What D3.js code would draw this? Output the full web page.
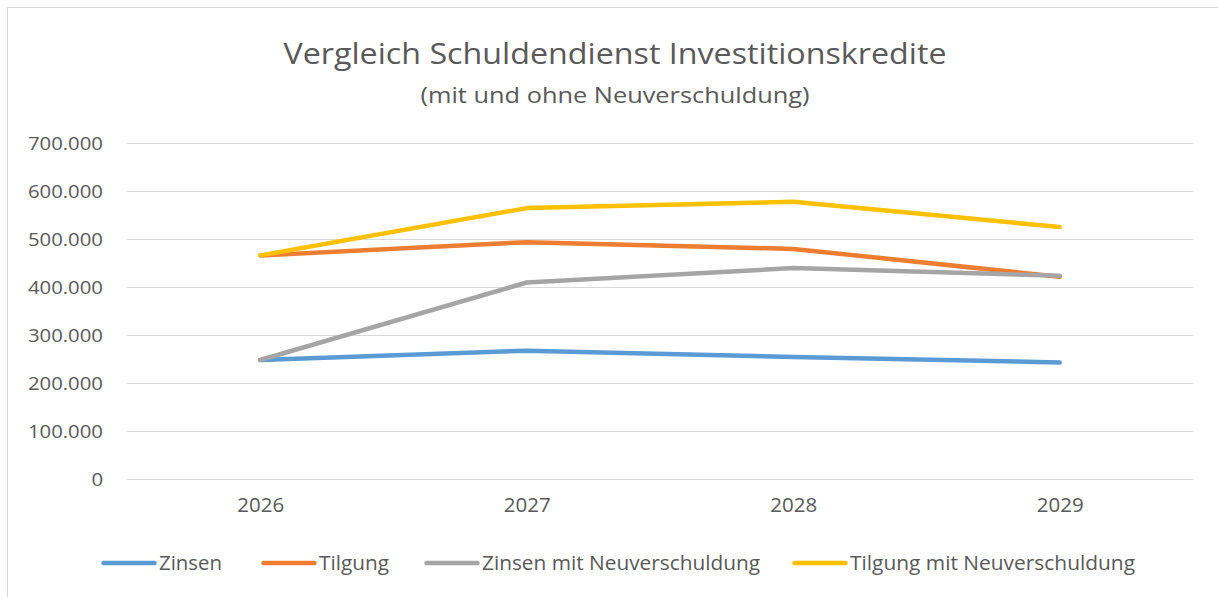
<!DOCTYPE html>
<html>
<head>
<meta charset="utf-8">
<script src="https://cdn.jsdelivr.net/npm/d3@7"></script>
<style>
  body { margin: 0; background: #fff; }
  svg text { font-family: "Open Sans", "Noto Sans", sans-serif; fill: #595959; }
</style>
</head>
<body>
<div id="chart"></div>
<script>
// values (EUR)
var years = ["2026", "2027", "2028", "2029"];
var zinsen = [248500, 268000, 255000, 243500];
var tilgung = [466500, 494000, 480000, 422000];
var zinsenNeu = [248500, 410000, 440000, 424000];
var tilgungNeu = [466500, 565000, 578000, 525500];
var seriesNames = ["Zinsen", "Tilgung", "Zinsen mit Neuverschuldung", "Tilgung mit Neuverschuldung"];
var seriesColors = ["#5B9BD5", "#ED7D31", "#A5A5A5", "#FFC000"];
var yTicks = [0, 100000, 200000, 300000, 400000, 500000, 600000, 700000];

var width = 1218, height = 597;
var svg = d3.select("#chart").append("svg")
    .attr("width", width)
    .attr("height", height);

// squeeze/stretch text to the width measured on the reference
function fitWidth(sel, w) {
    sel.attr("textLength", w).attr("lengthAdjust", "spacingAndGlyphs");
}
function stretch(sel, factor) {
    sel.each(function () {
        var len = this.getComputedTextLength();
        d3.select(this).attr("textLength", len * factor).attr("lengthAdjust", "spacingAndGlyphs");
    });
}

// chart frame
svg.append("rect")
    .attr("x", 7.5).attr("y", 7.5)
    .attr("width", width).attr("height", height)
    .attr("fill", "#fff")
    .attr("stroke", "#d9d9d9");

// titles
svg.append("text")
    .attr("x", 615).attr("y", 63.5)
    .attr("text-anchor", "middle")
    .style("font-size", "29px")
    .text("Vergleich Schuldendienst Investitionskredite")
    .call(fitWidth, 663);
svg.append("text")
    .attr("x", 615).attr("y", 103)
    .attr("text-anchor", "middle")
    .style("font-size", "21px")
    .text("(mit und ohne Neuverschuldung)")
    .call(fitWidth, 389);

var x = d3.scalePoint().domain(years).range([127, 1193]).padding(0.5);
var y = d3.scaleLinear().domain([0, 700000]).range([479.3, 143.3]);

var fmt = function (d) { return d3.format(",")(d).replace(/,/g, "."); };

// gridlines
svg.append("g").selectAll("line").data(yTicks).enter().append("line")
    .attr("x1", 127).attr("x2", 1193)
    .attr("y1", function (d) { return Math.round(y(d)) + 0.5; })
    .attr("y2", function (d) { return Math.round(y(d)) + 0.5; })
    .attr("stroke", "#d9d9d9")
    .attr("stroke-width", 1);

// y axis labels
var yAxis = d3.axisLeft(y).tickValues(yTicks).tickFormat(fmt).tickSize(0).tickPadding(0);
var yg = svg.append("g").attr("transform", "translate(103,0)").call(yAxis);
yg.select(".domain").remove();
yg.selectAll("text").style("font-size", "18px").attr("fill", "#595959")
    .call(stretch, 1.13);

// x axis labels
var xAxis = d3.axisBottom(x).tickSize(0).tickPadding(0);
var xg = svg.append("g").attr("transform", "translate(0,497)").call(xAxis);
xg.select(".domain").remove();
xg.selectAll("text").style("font-size", "20.5px").attr("fill", "#595959");

// lines
var seriesData = [zinsen, tilgung, zinsenNeu, tilgungNeu];
var line = d3.line()
    .x(function (d, i) { return x(years[i]); })
    .y(function (d) { return y(d); });

svg.append("g").selectAll("path").data(seriesData).enter().append("path")
    .attr("d", line)
    .attr("fill", "none")
    .attr("stroke", function (d, i) { return seriesColors[i]; })
    .attr("stroke-width", 4.5)
    .attr("stroke-linecap", "round")
    .attr("stroke-linejoin", "round");

// legend
var legendX = [101, 261, 424, 792];
var legendW = [63, 70, 278, 285];
var legend = svg.append("g").selectAll("g").data(seriesNames).enter().append("g")
    .attr("transform", function (d, i) { return "translate(" + legendX[i] + ",563)"; });
legend.append("line")
    .attr("x1", 2.5).attr("x2", 53.5)
    .attr("y1", 0).attr("y2", 0)
    .attr("stroke", function (d, i) { return seriesColors[i]; })
    .attr("stroke-width", 4.5)
    .attr("stroke-linecap", "round");
legend.append("text")
    .attr("x", 58).attr("y", 7)
    .style("font-size", "19.5px")
    .text(function (d) { return d; })
    .each(function (d, i) { d3.select(this).call(fitWidth, legendW[i]); });
</script>
</body>
</html>
